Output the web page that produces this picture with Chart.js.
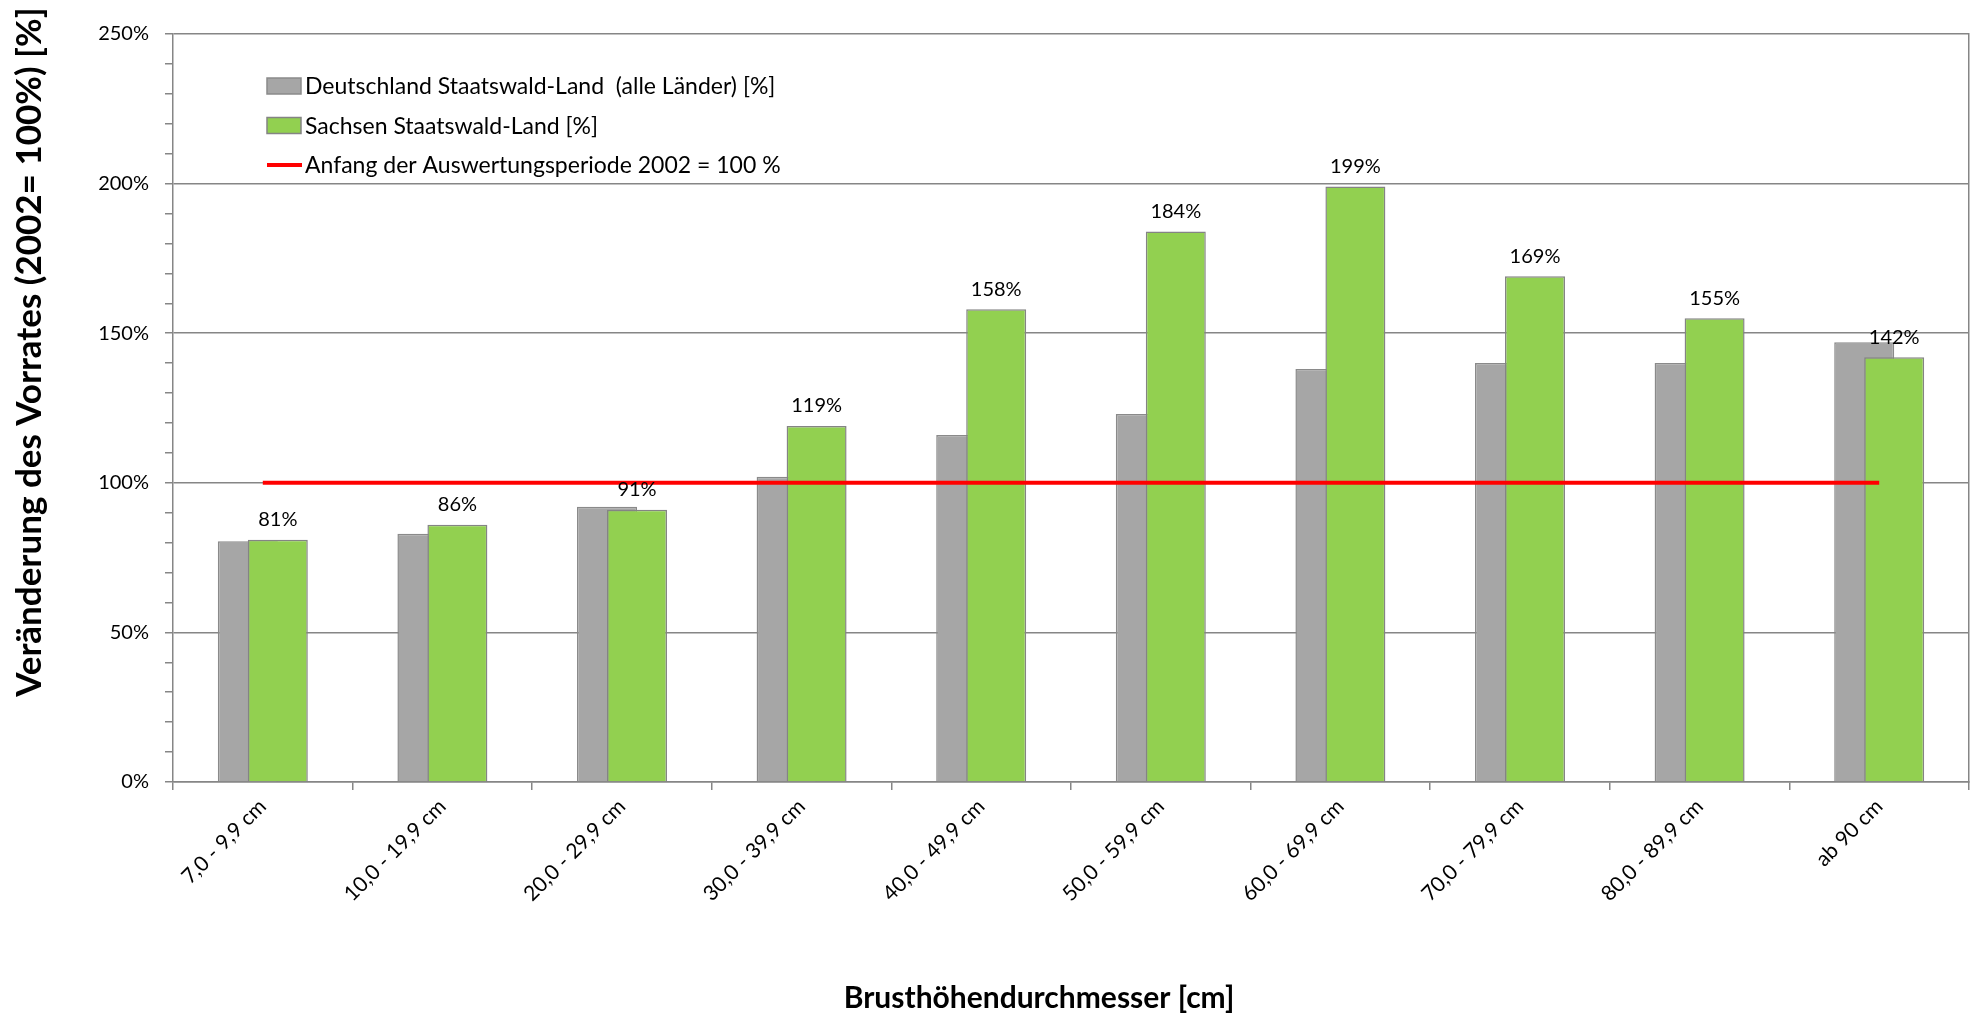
<!DOCTYPE html>
<html lang="de">
<head>
<meta charset="utf-8">
<title>Veränderung des Vorrates nach BHD-Stufen</title>
<script src="https://cdn.jsdelivr.net/npm/chart.js@4.4.1/dist/chart.umd.min.js"></script>
<style>
  html, body { margin: 0; padding: 0; background: #fff; }
  #wrap { width: 1975px; height: 1016px; }
</style>
</head>
<body>
<div id="wrap"><canvas id="vorratChart"></canvas></div>
<script>
// Durchmesserklassen
const categories = ['7,0 - 9,9 cm', '10,0 - 19,9 cm', '20,0 - 29,9 cm', '30,0 - 39,9 cm', '40,0 - 49,9 cm',
                    '50,0 - 59,9 cm', '60,0 - 69,9 cm', '70,0 - 79,9 cm', '80,0 - 89,9 cm', 'ab 90 cm'];
// Vorrat in % von 2002
const deutschland = [80.5, 83, 92, 102, 116, 123, 138, 140, 140, 147];
const sachsen = [81, 86, 91, 119, 158, 184, 199, 169, 155, 142];
const basis = [100, 100, 100, 100, 100, 100, 100, 100, 100, 100];
const yTicks = [0, 50, 100, 150, 200, 250];
const seriesNames = ['Deutschland Staatswald-Land  (alle Länder) [%]', 'Sachsen Staatswald-Land [%]',
                     'Anfang der Auswertungsperiode 2002 = 100 %'];

const axisGray = '#868686';
Chart.defaults.font.family = 'Lato, "Open Sans", sans-serif';
Chart.defaults.color = '#000';

// green bars sit on top of the grey ones (Excel overlap look)
const overlapOrder = {
    id: 'overlapOrder',
    beforeDatasetDraw(chart, args) {
        if (args.index === 1) return false;
    },
    afterDatasetDraw(chart, args) {
        if (args.index === 0) chart.getDatasetMeta(1).controller.draw();
    }
};

// value labels above the Sachsen bars
const valueLabels = {
    id: 'valueLabels',
    afterDatasetsDraw(chart) {
        const ctx = chart.ctx;
        ctx.save();
        ctx.font = '20px Lato';
        ctx.fillStyle = '#000';
        ctx.textAlign = 'center';
        ctx.textBaseline = 'middle';
        chart.getDatasetMeta(1).data.forEach((bar, i) => {
            ctx.fillText(sachsen[i] + '%', bar.x, bar.y - 20);
        });
        ctx.restore();
    }
};

// legend inside plot area + axis titles
const excelLegend = {
    id: 'excelLegend',
    afterDraw(chart) {
        const ctx = chart.ctx;
        ctx.save();
        ctx.font = '23px Lato';
        ctx.textBaseline = 'middle';
        chart.data.datasets.forEach((ds, i) => {
            const y = 86 + i * 39.5;
            if (ds.type === 'line') {
                ctx.strokeStyle = ds.borderColor;
                ctx.lineWidth = 4;
                ctx.beginPath();
                ctx.moveTo(267, y);
                ctx.lineTo(302, y);
                ctx.stroke();
            } else {
                ctx.fillStyle = ds.backgroundColor;
                ctx.fillRect(267, y - 8, 34, 16);
                ctx.strokeStyle = ds.borderColor;
                ctx.lineWidth = 1.5;
                ctx.strokeRect(267, y - 8, 34, 16);
            }
            ctx.fillStyle = '#000';
            ctx.fillText(ds.label, 305, y + 1);
        });

        ctx.textAlign = 'center';
        ctx.font = 'bold 30px Lato';
        ctx.fillText('Brusthöhendurchmesser [cm]', 1039, 998);
        ctx.font = 'bold 35px Lato';
        ctx.translate(30, 352);
        ctx.rotate(-Math.PI / 2);
        ctx.fillText('Veränderung des Vorrates (2002= 100%) [%]', 0, 0);
        ctx.restore();
    }
};

const ctx = document.getElementById('vorratChart').getContext('2d');
const chart = new Chart(ctx, {
    data: {
        labels: categories,
        datasets: [{
            type: 'bar',
            label: seriesNames[0],
            data: deutschland,
            backgroundColor: '#a6a6a6',
            borderColor: '#8a8a8a',
            borderWidth: 1.5,
            categoryPercentage: 0.334,
            barPercentage: 2.0
        }, {
            type: 'bar',
            label: seriesNames[1],
            data: sachsen,
            backgroundColor: '#92d050',
            borderColor: '#848484',
            borderWidth: 1.5,
            categoryPercentage: 0.334,
            barPercentage: 2.0
        }, {
            type: 'line',
            label: seriesNames[2],
            data: basis,
            borderColor: '#ff0000',
            borderWidth: 4,
            pointRadius: 0,
            fill: false,
            order: -1
        }]
    },
    options: {
        responsive: true,
        maintainAspectRatio: false,
        animation: false,
        layout: {
            padding: { top: 34, right: 6, left: 0, bottom: 0 }
        },
        plugins: {
            legend: { display: false },
            tooltip: { enabled: false }
        },
        scales: {
            x: {
                afterFit: (scale) => { scale.height = 234; },
                grid: {
                    drawOnChartArea: false,
                    color: axisGray,
                    tickLength: 8,
                    lineWidth: 1.5
                },
                border: { color: axisGray, width: 1.5 },
                ticks: {
                    font: { size: 21 },
                    color: '#000',
                    maxRotation: 45,
                    minRotation: 45,
                    autoSkip: false,
                    padding: 4
                }
            },
            y: {
                min: 0,
                max: 250,
                afterFit: (scale) => { scale.width = 173; },
                grid: {
                    color: (c) => yTicks.includes(c.tick.value) ? axisGray : 'rgba(0,0,0,0)',
                    tickColor: axisGray,
                    tickLength: 8,
                    lineWidth: 1.5
                },
                border: { color: axisGray, width: 1.5 },
                ticks: {
                    stepSize: 10,
                    autoSkip: false,
                    font: { size: 20 },
                    color: '#000',
                    padding: 16,
                    callback: (v) => yTicks.includes(v) ? v + '%' : ''
                }
            },
            y2: {
                position: 'right',
                afterFit: (scale) => { scale.width = 0; },
                grid: { drawOnChartArea: false, drawTicks: false },
                border: { color: axisGray, width: 1.5 },
                ticks: { display: false }
            }
        }
    },
    plugins: [overlapOrder, valueLabels, excelLegend]
});
</script>
</body>
</html>
